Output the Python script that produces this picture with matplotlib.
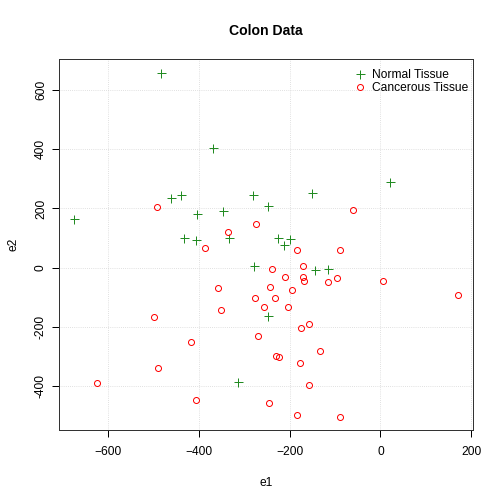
import matplotlib
matplotlib.use('Agg')
from matplotlib import pyplot as plt

# Normal tissue (e1, e2)
normal_e1 = [-483, -674, -368, -461, -438, -403, -346, -280, -247, -431, -406,
             -333, -279, -151, 21, -225, -212, -199, -143, -116, -248, -314]
normal_e2 = [658, 163, 404, 234, 244, 181, 193, 246, 208, 100, 93,
             101, 5, 251, 289, 101, 78, 96, -9, -5, -164, -388]

# Cancerous tissue (e1, e2)
cancer_e1 = [-492, -274, -335, -385, -60, -184, -90, -238, -171, -357,
             -275, -256, -351, -499, -269, -417, -489, -623, -406, -246,
             -211, -170, -169, -115, -95, 5, 171, -242, -195, -233,
             -203, -158, -174, -133, -229, -224, -178, -158, -184, -90]
cancer_e2 = [206, 147, 122, 68, 195, 58, 60, -3, 6, -69,
             -103, -133, -143, -168, -231, -252, -340, -391, -446, -459,
             -31, -31, -45, -47, -35, -45, -94, -64, -74, -103,
             -132, -190, -203, -282, -299, -303, -322, -396, -498, -503]

x_ticks = [-600, -400, -200, 0, 200]
y_ticks = [-400, -200, 0, 200, 400, 600]

plt.rcParams['font.family'] = ['Liberation Sans', 'DejaVu Sans']
plt.rcParams['font.size'] = 12

fig = plt.figure(figsize=(7, 7), dpi=72)
ax = fig.add_axes([0.117, 0.146, 0.822, 0.737])

ax.grid(True, color='lightgray', linestyle=':', linewidth=0.8)
ax.set_axisbelow(True)

ax.plot(normal_e1, normal_e2, linestyle='none', marker='+', markersize=9,
        markeredgewidth=1, color='forestgreen', label='Normal Tissue')
ax.plot(cancer_e1, cancer_e2, linestyle='none', marker='o', markersize=6,
        markerfacecolor='none', markeredgewidth=1, color='red',
        label='Cancerous Tissue')

ax.set_xlim(-707, 204)
ax.set_ylim(-550, 705)
ax.set_xticks(x_ticks)
ax.set_yticks(y_ticks)
ax.set_yticklabels([str(v) for v in y_ticks], rotation=90, va='center')
ax.tick_params(direction='out', length=7, width=1, pad=5, labelsize=12)
ax.tick_params(axis='x', pad=9)

for s in ax.spines.values():
    s.set_linewidth(1)
    s.set_color('#333333')

ax.set_xlabel('e1', fontsize=12, labelpad=19)
ax.set_ylabel('e2', fontsize=12, labelpad=15)
ax.set_title('Colon Data', fontsize=14, fontweight='bold', pad=24)

ax.legend(loc='upper right', bbox_to_anchor=(1.007, 0.995), frameon=False,
          fontsize=12, handlelength=1, handletextpad=0.5, borderaxespad=0.3,
          labelspacing=0.1)

fig.savefig('out.png', dpi=72)
